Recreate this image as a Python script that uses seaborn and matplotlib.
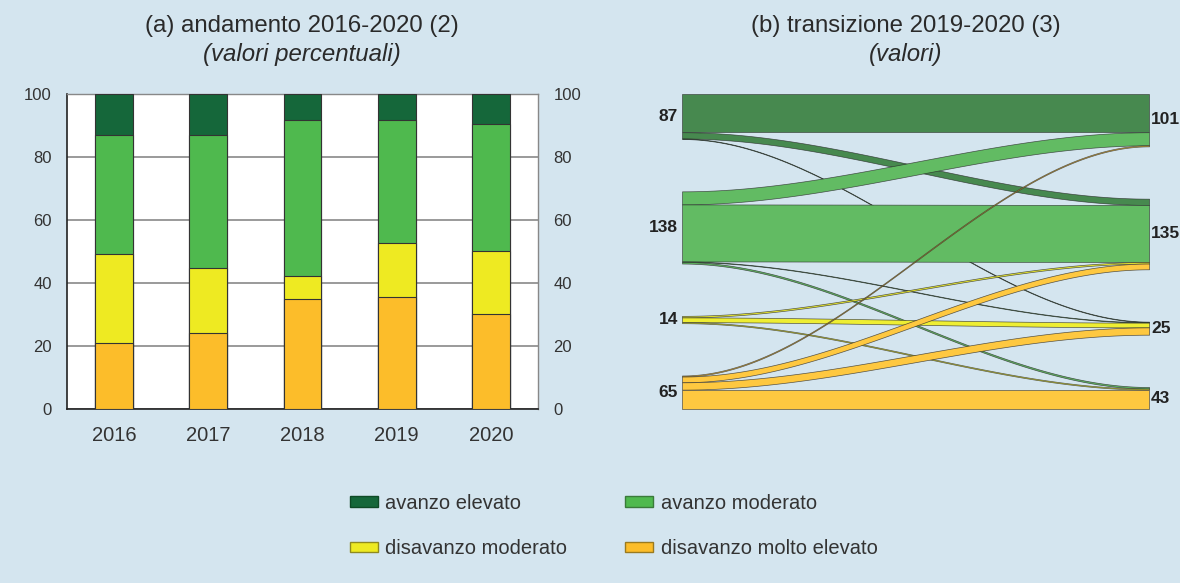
import numpy as np
import pandas as pd
import matplotlib
matplotlib.use("Agg")
import matplotlib.pyplot as plt
from matplotlib.patches import Patch
import seaborn as sns

# (a) andamento 2016-2020, valori percentuali
anni = ["2016", "2017", "2018", "2019", "2020"]
disavanzo_molto_elevato = [21.1, 24.1, 35.1, 35.5, 30.1]
disavanzo_moderato = [28.3, 20.8, 7.3, 17.4, 20.2]
avanzo_moderato = [37.6, 42.1, 49.6, 39.1, 40.2]
avanzo_elevato = [13.0, 13.0, 8.0, 8.0, 9.5]

# (b) transizione 2019 (righe) -> 2020 (colonne)
categorie = ["avanzo elevato", "avanzo moderato", "disavanzo moderato", "disavanzo molto elevato"]
flussi = [[74, 12, 1, 0],
          [25, 109, 1, 3],
          [0, 3, 9, 2],
          [2, 11, 14, 38]]

col_barre = {"avanzo elevato": "#15673a", "avanzo moderato": "#4fb94e",
             "disavanzo moderato": "#eeea22", "disavanzo molto elevato": "#fcbd2a"}
col_bordi = {"avanzo elevato": "#0e4a26", "avanzo moderato": "#3a7a3a",
             "disavanzo moderato": "#8f8a20", "disavanzo molto elevato": "#9a7a20"}
col_sankey = ["#47894f", "#62bb63", "#eeee33", "#fec840"]
sfondo = "#d4e5ef"

sns.set_style("white")
plt.rcParams["font.family"] = ["Liberation Sans", "DejaVu Sans"]

fig = plt.figure(figsize=(11.8, 5.83), dpi=100, facecolor=sfondo)

# ---- pannello (a)
df = pd.DataFrame({"anno": anni,
                   "disavanzo molto elevato": disavanzo_molto_elevato,
                   "disavanzo moderato": disavanzo_moderato,
                   "avanzo moderato": avanzo_moderato,
                   "avanzo elevato": avanzo_elevato})
ordine = ["disavanzo molto elevato", "disavanzo moderato", "avanzo moderato", "avanzo elevato"]
cum = df[ordine].cumsum(axis=1)
cum["anno"] = df["anno"]

ax = fig.add_axes([0.0568, 0.2985, 0.3992, 0.5395])
ax.set_facecolor("white")
for c in reversed(ordine):
    sns.barplot(data=cum, x="anno", y=c, color=col_barre[c], width=0.4, saturation=1,
                edgecolor="#333333", linewidth=0.8, ax=ax, zorder=3)
ax.set_ylim(0, 100)
ax.set_xlim(-0.5, 4.5)
ax.set_yticks([0, 20, 40, 60, 80, 100])
ax.set_xlabel("")
ax.set_ylabel("")
ax.yaxis.grid(True, color="#929292", lw=1.3, zorder=0)
ax.set_axisbelow(True)
ax.tick_params(axis="y", length=0, pad=11, labelsize=12, labelcolor="#333333")
ax.tick_params(axis="x", length=0, pad=12, labelsize=14.5, labelcolor="#333333")
for s in ["left", "bottom"]:
    ax.spines[s].set_color("#222222")
    ax.spines[s].set_linewidth(1.2)
for s in ["top", "right"]:
    ax.spines[s].set_color("#888888")
    ax.spines[s].set_linewidth(1.0)

ax2 = ax.twinx()
ax2.set_ylim(0, 100)
ax2.set_yticks([0, 20, 40, 60, 80, 100])
ax2.tick_params(axis="y", length=0, pad=11, labelsize=12, labelcolor="#333333")
for s in ax2.spines.values():
    s.set_visible(False)

fig.text(302 / 1180, 1 - 26 / 583, "(a) andamento 2016-2020 (2)", ha="center", va="center",
         fontsize=17.3, color="#2a2a2a")
fig.text(302 / 1180, 1 - 55 / 583, "(valori percentuali)", ha="center", va="center",
         fontsize=17.3, style="italic", color="#2a2a2a")

# ---- pannello (b)
F = np.array(flussi)
n = len(categorie)
uscite = F.sum(axis=1)
entrate = F.sum(axis=0)
gap = 100
inizio_sx = np.concatenate([[0], np.cumsum(uscite + gap)[:-1]])
inizio_dx = np.concatenate([[0], np.cumsum(entrate + gap)[:-1]])
totale = max(inizio_sx[-1] + uscite[-1], inizio_dx[-1] + entrate[-1])

axs = fig.add_axes([0.578, 0.2976, 0.3958, 0.542])
axs.set_xlim(0, 1)
axs.set_ylim(totale, 0)
axs.axis("off")

xs = np.linspace(0, 1, 300)
curva = 3 * xs ** 2 - 2 * xs ** 3
for i in range(n):
    for j in range(n):
        v = F[i, j]
        if v == 0:
            continue
        y0 = inizio_sx[i] + F[i, :j].sum()
        y1 = inizio_dx[j] + F[:i, j].sum()
        alto = y0 + (y1 - y0) * curva
        axs.fill_between(xs, alto, alto + v, facecolor=col_sankey[i],
                         edgecolor=(0.15, 0.15, 0.15, 0.75), linewidth=0.5)

for i in range(n):
    axs.text(-0.009, inizio_sx[i] + uscite[i] / 2, str(uscite[i]), ha="right", va="center",
             fontsize=12.5, fontweight="bold", color="#222222",
             family=["Liberation Sans Narrow", "Liberation Sans"])
    axs.text(1.004, inizio_dx[i] + entrate[i] / 2, str(entrate[i]), ha="left", va="center",
             fontsize=12.5, fontweight="bold", color="#222222",
             family=["Liberation Sans Narrow", "Liberation Sans"])

fig.text(906 / 1180, 1 - 26 / 583, "(b) transizione 2019-2020 (3)", ha="center", va="center",
         fontsize=17.3, color="#2a2a2a")
fig.text(906 / 1180, 1 - 55 / 583, "(valori)", ha="center", va="center",
         fontsize=17.3, style="italic", color="#2a2a2a")

# ---- legenda
ordine_leg = ["avanzo elevato", "disavanzo moderato", "avanzo moderato", "disavanzo molto elevato"]
maniglie = [Patch(facecolor=col_barre[c], edgecolor=col_bordi[c], linewidth=1.0, label=c)
            for c in ordine_leg]
fig.legend(handles=maniglie, loc="center", bbox_to_anchor=(613.5 / 1180, 1 - 526 / 583),
           ncol=2, frameon=False, fontsize=14.5, handlelength=1.4, handleheight=0.45,
           handletextpad=0.35, columnspacing=2.9, labelspacing=1.3, labelcolor="#333333")

fig.savefig("out.png", dpi=100, facecolor=sfondo)
